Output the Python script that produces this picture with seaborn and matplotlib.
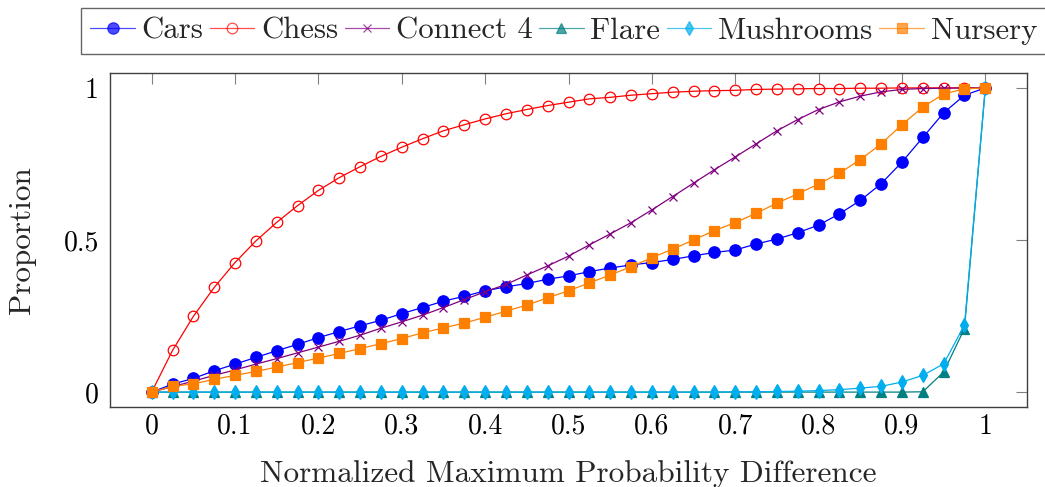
import numpy as np
import pandas as pd
import matplotlib
matplotlib.use("Agg")
import matplotlib.pyplot as plt
import seaborn as sns

# ---------------- data ----------------
x_vals = [i * 0.025 for i in range(41)]

cars = [0.0, 0.026, 0.045, 0.070, 0.092, 0.114, 0.136, 0.157, 0.179, 0.199,
        0.218, 0.236, 0.258, 0.278, 0.299, 0.315, 0.333, 0.346, 0.357, 0.371,
        0.382, 0.396, 0.408, 0.418, 0.426, 0.436, 0.448, 0.459, 0.467, 0.487,
        0.503, 0.524, 0.549, 0.586, 0.630, 0.685, 0.756, 0.837, 0.918, 0.976,
        1.0]
chess = [0.0, 0.137, 0.249, 0.344, 0.426, 0.497, 0.558, 0.613, 0.663, 0.705,
         0.741, 0.775, 0.805, 0.833, 0.859, 0.879, 0.898, 0.915, 0.929, 0.942,
         0.953, 0.964, 0.969, 0.976, 0.981, 0.986, 0.989, 0.991, 0.992, 0.995,
         0.996, 0.997, 0.998, 0.998, 0.999, 0.999, 1.0, 1.0, 1.0, 1.0,
         1.0]
connect4 = [0.0, 0.018, 0.036, 0.055, 0.073, 0.092, 0.110, 0.129, 0.148, 0.167,
            0.187, 0.210, 0.231, 0.253, 0.278, 0.304, 0.330, 0.354, 0.385, 0.415,
            0.447, 0.484, 0.520, 0.557, 0.599, 0.643, 0.687, 0.731, 0.773, 0.816,
            0.859, 0.896, 0.929, 0.954, 0.973, 0.987, 0.995, 0.998, 0.999, 1.0,
            1.0]
flare = [0.0, 0.0, 0.0, 0.0, 0.0, 0.0, 0.0, 0.0, 0.0, 0.0,
         0.0, 0.0, 0.0, 0.0, 0.0, 0.0, 0.0, 0.0, 0.0, 0.0,
         0.0, 0.0, 0.0, 0.0, 0.0, 0.0, 0.0, 0.0, 0.0, 0.0,
         0.0, 0.0, 0.0, 0.0, 0.0, 0.0, 0.0, 0.001, 0.066, 0.209,
         1.0]
mushrooms = [0.0, 0.0, 0.0, 0.0, 0.0, 0.0, 0.0, 0.0, 0.0, 0.0,
             0.0, 0.0, 0.0, 0.0, 0.0, 0.0, 0.0, 0.0, 0.0, 0.0,
             0.0, 0.0, 0.0, 0.0, 0.0, 0.0, 0.0, 0.0, 0.001, 0.001,
             0.002, 0.003, 0.005, 0.008, 0.013, 0.019, 0.033, 0.055, 0.093, 0.220,
             1.0]
nursery = [0.0, 0.019, 0.027, 0.042, 0.055, 0.068, 0.082, 0.097, 0.112, 0.127,
           0.143, 0.159, 0.176, 0.195, 0.211, 0.227, 0.246, 0.266, 0.286, 0.310,
           0.333, 0.359, 0.385, 0.412, 0.442, 0.470, 0.500, 0.531, 0.557, 0.588,
           0.621, 0.652, 0.684, 0.720, 0.764, 0.816, 0.879, 0.937, 0.980, 0.997,
           1.0]

series_names = ["Cars", "Chess", "Connect 4", "Flare", "Mushrooms", "Nursery"]
series_values = [cars, chess, connect4, flare, mushrooms, nursery]

x_ticks = [0, 0.1, 0.2, 0.3, 0.4, 0.5, 0.6, 0.7, 0.8, 0.9, 1.0]
x_tick_labels = ["0", "0.1", "0.2", "0.3", "0.4", "0.5", "0.6", "0.7", "0.8", "0.9", "1"]
y_ticks = [0, 0.5, 1.0]
y_tick_labels = ["0", "0.5", "1"]

# ---------------- styles ----------------
styles = {
    "Cars":      dict(color="#0000FF", marker="o", markersize=8.2, markerfacecolor="#0000FF"),
    "Chess":     dict(color="#FF0000", marker="o", markersize=7.6, markerfacecolor="none"),
    "Connect 4": dict(color="#800080", marker="x", markersize=5.5, markerfacecolor="#800080"),
    "Flare":     dict(color="#008080", marker="^", markersize=6.5, markerfacecolor="#008080"),
    "Mushrooms": dict(color="#00AEEF", marker="d", markersize=7.5, markerfacecolor="#00AEEF"),
    "Nursery":   dict(color="#FF8000", marker="s", markersize=7.4, markerfacecolor="#FF8000"),
}

rows = []
for name, vals in zip(series_names, series_values):
    for xv, yv in zip(x_vals, vals):
        rows.append({"x": xv, "y": yv, "dataset": name})
df = pd.DataFrame(rows)

sns.set_theme(style="white")
plt.rcParams["font.family"] = ["cmr10", "DejaVu Serif"]
plt.rcParams["mathtext.fontset"] = "cm"
plt.rcParams["axes.unicode_minus"] = False
plt.rcParams["axes.formatter.use_mathtext"] = True

fig = plt.figure(figsize=(10.45, 4.87), dpi=100)
ax = fig.add_axes([110 / 1045, 1 - 407 / 487, (1027 - 110) / 1045, (407 - 73) / 487])

for name in series_names:
    st = styles[name]
    sub = df[df["dataset"] == name]
    sns.lineplot(data=sub, x="x", y="y", ax=ax, color=st["color"],
                 marker=st["marker"], markersize=st["markersize"],
                 markerfacecolor=st["markerfacecolor"],
                 markeredgecolor=st["color"], markeredgewidth=0.9,
                 linewidth=0.9, label=name, sort=False, errorbar=None)

if ax.get_legend() is not None:
    ax.get_legend().remove()

ax.set_xlim(-0.05, 1.05)
ax.set_ylim(-0.049, 1.049)
ax.set_xticks(x_ticks)
ax.set_xticklabels(x_tick_labels)
ax.set_yticks(y_ticks)
ax.set_yticklabels(y_tick_labels)

ax.tick_params(axis="both", direction="in", top=True, right=True, length=8,
               width=0.8, color="#808080", labelsize=20, labelcolor="black")
ax.tick_params(axis="x", pad=4.5)
ax.tick_params(axis="y", pad=8)
for sp in ax.spines.values():
    sp.set_color("#404040")
    sp.set_linewidth(1.0)

ax.set_xlabel("Normalized Maximum Probability Difference", fontsize=22.5, labelpad=15)
ax.set_ylabel("Proportion", fontsize=22.5, labelpad=20)

handles, labels = ax.get_legend_handles_labels()
leg = fig.legend(handles, labels, loc="upper left",
                 bbox_to_anchor=(81 / 1045, 1 - 8 / 487), ncol=6,
                 frameon=True, fancybox=False, edgecolor="#666666",
                 framealpha=1, fontsize=22.2, handlelength=1.45,
                 handletextpad=0.22, columnspacing=0.2, borderpad=0.3,
                 borderaxespad=0)
leg.get_frame().set_linewidth(1.0)
for h in leg.legend_handles:
    h.set_alpha(0.7)

fig.savefig("out.png", dpi=100)
